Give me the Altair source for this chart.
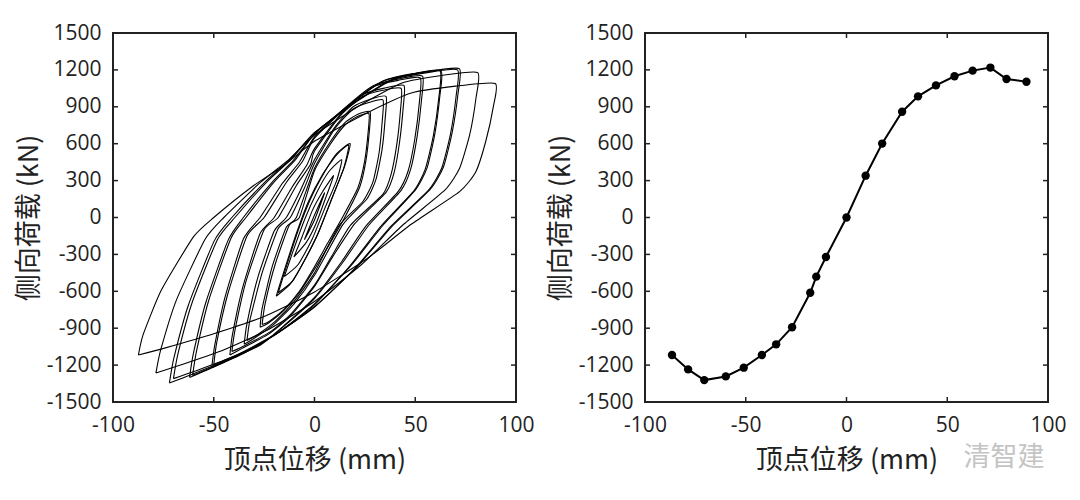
import altair as alt
import pandas as pd

# ---------------- data ----------------
x_ticks = [-100, -50, 0, 50, 100]
y_ticks = [-1500, -1200, -900, -600, -300, 0, 300, 600, 900, 1200, 1500]

# skeleton (envelope) curve, right panel
skel_disp = [-86.6, -78.6, -70.6, -59.9, -51.0, -42.0, -34.9, -27.0, -18.0, -15.0, -10.2,
             0.0, 9.5, 17.7, 27.6, 35.5, 44.4, 53.6, 62.6, 71.4, 79.4, 89.3]
skel_load = [-1118, -1235, -1322, -1292, -1221, -1118, -1031, -892, -612, -481, -321,
             0, 340, 601, 860, 985, 1074, 1148, 1194, 1219, 1126, 1104]

# hysteresis loops, left panel (displacement mm, load kN)
loop01 = [(-5, -180), (0, 20), (5, 200), (0, -20), (-5, -180)]
loop02 = [(-10.2, -321), (-6, -150), (-1, 60), (4, 210), (9.5, 340),
          (6, 180), (1, -40), (-4, -200), (-10.2, -321)]
loop03 = [(-15, -481), (-11, -290), (-5, -20), (1, 200), (7, 370), (13.5, 470),
          (11, 300), (5, 70), (-1, -170), (-8, -380), (-15, -481)]
loop04 = [(-18, -612), (-14, -400), (-8, -100), (-2, 150), (5, 370), (11, 520), (17.7, 601),
          (15, 420), (9, 170), (2, -120), (-5, -350), (-11, -520), (-18, -612)]
loop04b = [(-19, -640), (-15, -430), (-9, -130), (-3, 130), (4, 350), (11, 510), (17, 590),
           (14.5, 400), (8.5, 150), (1.5, -140), (-6, -380), (-12, -540), (-19, -640)]
loop05 = [(-27, -892), (-26, -740), (-21, -400), (-14, -80), (-9, 0), (0, 400), (8, 620), (15, 770),
          (21.5, 840), (27.6, 860),
          (27.2, 700), (25.5, 460), (22.5, 250), (15, 0), (8, -200), (0, -420), (-8, -620),
          (-15.4, -760), (-23, -860), (-27, -892)]
loop05b = [(-26, -870), (-24.5, -700), (-19.5, -380), (-12.5, -60), (-7.5, 0), (0, 380), (8, 600),
           (15, 750), (21, 820), (27, 845),
           (26.6, 690), (24.8, 450), (21.5, 240), (13.5, -10), (6.5, -210), (0, -400), (-7.5, -600),
           (-15, -745), (-22.5, -845), (-26, -870)]
loop06 = [(-34.9, -1031), (-33.5, -860), (-28, -480), (-20, -110), (-14, 0), (-7, 220), (0, 470),
          (10.3, 740), (19.2, 900), (27.7, 962), (35.5, 985),
          (35.1, 810), (33.5, 550), (30.5, 310), (26, 150), (14, -60), (0, -470), (-10, -700),
          (-19.9, -865), (-29.7, -980), (-34.9, -1031)]
loop06b = [(-33.5, -1000), (-32, -830), (-26, -450), (-18, -90), (-12, 0), (-5, 240), (0, 440),
           (10, 720), (19, 880), (27, 935), (34, 955),
           (33.6, 780), (32, 520), (29, 290), (24, 130), (12, -70), (0, -450), (-10, -680),
           (-19.5, -845), (-28.5, -955), (-33.5, -1000)]
loop07 = [(-42, -1118), (-40.7, -950), (-35.5, -560), (-27, -130), (-20, 0), (-11, 250), (-4, 420),
          (0, 560), (12.9, 838), (24, 999), (34.6, 1052), (44.4, 1074),
          (44, 891), (42.2, 612), (39.5, 365), (35.5, 204), (20, -50), (9, -320), (0, -560),
          (-12.2, -805), (-23, -950), (-35.7, -1062), (-42, -1118)]
loop07b = [(-41, -1090), (-39.5, -920), (-34, -520), (-25, -100), (-18, 0), (-9, 260), (-2, 430),
           (0, 540), (13, 830), (24, 985), (34, 1035), (43, 1050),
           (42.6, 860), (40.8, 590), (38, 350), (34, 190), (18, -60), (8, -330), (0, -550),
           (-12, -790), (-22, -930), (-34.5, -1040), (-41, -1090)]
loop08 = [(-51, -1221), (-49.5, -1038), (-44.4, -647), (-35.2, -171), (-27, 0), (-16, 276),
          (-7.5, 449), (0, 655), (15.5, 897), (28.9, 1070), (41.8, 1127), (53.6, 1150),
          (53.1, 955), (50.9, 655), (47.7, 391), (42.9, 219), (27, -61), (14, -366), (0, -659),
          (-14.8, -879), (-27, -1038), (-43.4, -1160), (-51, -1221)]
loop08b = [(-50, -1200), (-48.5, -1015), (-43, -620), (-33.5, -150), (-25, 0), (-14, 285),
           (-6, 455), (0, 645), (15.5, 890), (29, 1062), (41.5, 1115), (52.5, 1135),
           (52, 930), (49.8, 640), (46.5, 380), (41.5, 210), (25.5, -70), (13, -370), (0, -650),
           (-14.5, -870), (-26, -1025), (-42.5, -1145), (-50, -1200)]
loop09 = [(-62, -1300), (-60.1, -1105), (-53.9, -689), (-42.8, -182), (-35.3, 0), (-21.1, 286),
          (-10.5, 464), (0, 678), (18.2, 928), (33.9, 1107), (49, 1166), (62.8, 1190),
          (62.2, 988), (59.7, 678), (55.9, 405), (50.2, 226), (33.9, -65), (18.2, -390), (0, -702),
          (-18, -936), (-35.3, -1105), (-52.7, -1235), (-62, -1300)]
loop09b = [(-60.5, -1285), (-58.6, -1090), (-52.5, -675), (-41.5, -170), (-34, 0), (-20, 290),
           (-9.5, 468), (0, 680), (18.5, 930), (34, 1110), (49, 1170), (62.3, 1195),
           (61.7, 975), (59, 665), (55, 395), (49.5, 220), (33, -70), (17.5, -395), (0, -710),
           (-17.5, -930), (-34.5, -1095), (-51.5, -1222), (-60.5, -1285)]
loop10 = [(-72, -1345), (-69.8, -1143), (-62.6, -713), (-49.7, -188), (-41, 0), (-24.5, 290),
          (-12.2, 472), (0, 690), (20.9, 944), (38.8, 1125), (56.1, 1186), (71.9, 1210),
          (71.2, 1004), (68.3, 690), (64, 411), (57.5, 230), (38.8, -67), (20.9, -404), (0, -726),
          (-20.9, -968), (-41, -1143), (-61.2, -1278), (-72, -1345)]
loop10b = [(-70, -1310), (-67.8, -1110), (-60.8, -695), (-48.2, -180), (-39.5, 0), (-23.5, 292),
           (-11.5, 474), (0, 690), (21, 944), (38.8, 1120), (56, 1178), (71, 1200),
           (70.3, 990), (67.5, 680), (63.2, 405), (56.7, 225), (38, -70), (20.5, -405), (0, -728),
           (-20.5, -960), (-40, -1128), (-59.5, -1250), (-70, -1310)]
loop11 = [(-78.7, -1265), (-76.3, -1075), (-68.5, -670), (-54.3, -177), (-45, 0), (-27, 283),
          (-13.5, 460), (0, 670), (23.5, 920), (43.7, 1095), (63.2, 1155), (81, 1178),
          (80.2, 978), (77, 671), (72, 400), (64.8, 224), (43.7, -63), (23.5, -380), (0, -683),
          (-22.8, -910), (-44.9, -1075), (-66.9, -1202), (-78.7, -1265)]
loop12 = [(-87.4, -1118), (-85, -950), (-76, -590), (-60, -156), (-50, 0), (-30, 262), (-15, 425),
          (0, 620), (26, 850), (48, 1012), (70, 1068), (89.7, 1090),
          (88.8, 905), (85, 620), (80, 370), (72, 210), (48, -55), (26, -335), (0, -605),
          (-25, -805), (-50, -945), (-74, -1060), (-87.4, -1118)]

loops = [loop01, loop02, loop03, loop04, loop04b, loop05, loop05b, loop06, loop06b, loop07, loop07b,
         loop08, loop08b, loop09, loop09b, loop10, loop10b, loop11, loop12]

x_title = "顶点位移 (mm)"
y_title = "侧向荷载 (kN)"
watermark = ["清智建"]

# ---------------- tables ----------------
rows = []
for i, lp in enumerate(loops):
    for j, (dx, ly) in enumerate(lp):
        rows.append({"loop": i, "seq": j, "disp": dx, "load": ly})
hyst = pd.DataFrame(rows)
skel = pd.DataFrame({"disp": skel_disp, "load": skel_load})
xt = pd.DataFrame({"disp": x_ticks})
yt = pd.DataFrame({"load": y_ticks})
wm = pd.DataFrame({"t": watermark})

W, H = 403, 369
TK = 5
xscale = alt.Scale(domain=[-100, 100], nice=False, zero=False)
yscale = alt.Scale(domain=[-1500, 1500], nice=False, zero=False)

LBL = "'' + datum.value"
xaxis = alt.Axis(values=x_ticks, title=x_title, labelFlush=False, labelOverlap=False,
                 labelExpr=LBL, labelPadding=12, titlePadding=12, tickSize=0)
yaxis = alt.Axis(values=y_ticks, title=y_title, labelOverlap=False,
                 labelExpr=LBL, labelPadding=12, titlePadding=3, tickSize=0)


def XE():
    return alt.X("disp:Q", scale=xscale, axis=xaxis)


def YE():
    return alt.Y("load:Q", scale=yscale, axis=yaxis)


def tick_layers():
    tc = dict(color="#222222", strokeWidth=1.5)
    left = alt.Chart(yt).mark_rule(**tc).encode(y=YE(), x=alt.value(0), x2=alt.value(TK))
    right = alt.Chart(yt).mark_rule(**tc).encode(y=YE(), x=alt.value(W - TK), x2=alt.value(W))
    bottom = alt.Chart(xt).mark_rule(**tc).encode(x=XE(), y=alt.value(H - TK), y2=alt.value(H))
    top = alt.Chart(xt).mark_rule(**tc).encode(x=XE(), y=alt.value(0), y2=alt.value(TK))
    return [left, right, bottom, top]


hyst_line = alt.Chart(hyst).mark_line(
    color="black", strokeWidth=1.1, interpolate="cardinal", tension=0.45
).encode(x=XE(), y=YE(), detail="loop:N", order="seq:Q")

left_panel = alt.layer(hyst_line, *tick_layers()).properties(width=W, height=H)

skel_line = alt.Chart(skel).mark_line(color="black", strokeWidth=2).encode(x=XE(), y=YE())
skel_pts = alt.Chart(skel).mark_circle(color="black", size=70, opacity=1).encode(x=XE(), y=YE())
wm_text = alt.Chart(wm).mark_text(
    font="Noto Sans CJK SC", fontSize=27, color="#c4c4c4", align="center", baseline="middle"
).encode(text="t:N", x=alt.value(W - 44), y=alt.value(H + 56))

right_panel = alt.layer(skel_line, skel_pts, *tick_layers(), wm_text).properties(width=W, height=H)

chart = alt.hconcat(left_panel, right_panel, spacing=10).properties(
    padding={"left": 6, "top": 13, "right": 2, "bottom": 5}, background="white"
).configure_view(
    stroke="#222222", strokeWidth=2
).configure_axis(
    labelFont="Open Sans", labelFontSize=21, labelColor="#222222",
    titleFont="Noto Sans CJK SC", titleFontSize=27, titleFontWeight="normal", titleColor="#222222",
    domain=False, ticks=False, grid=False,
)

chart.save("out.html", embed_options={"renderer": "svg", "actions": False})
